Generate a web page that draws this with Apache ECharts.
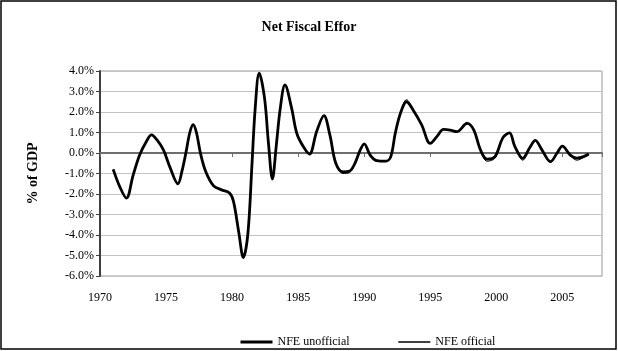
<!DOCTYPE html>
<html>
<head>
<meta charset="utf-8">
<script src="https://cdn.jsdelivr.net/npm/echarts@6/dist/echarts.min.js"></script>
<style>
  html, body { margin: 0; padding: 0; background: #fff; }
  #chart { width: 618px; height: 351px; }
</style>
</head>
<body>
<div id="chart"></div>
<script>
// Observation dates (fractional years)
const years = [
  1971.0, 1971.5, 1972.0, 1972.5, 1973.0, 1973.5, 1973.9, 1974.3, 1974.8, 1975.3,
  1975.9, 1976.2, 1976.5, 1976.8, 1977.05, 1977.3, 1977.6, 1978.0, 1978.6, 1979.2,
  1979.8, 1980.1, 1980.5, 1980.85, 1981.2, 1981.5, 1981.75, 1982.05, 1982.45, 1982.75,
  1983.05, 1983.35, 1983.65, 1984.0, 1984.5, 1984.9, 1985.4, 1985.85, 1986.4, 1986.95,
  1987.4, 1987.85, 1988.4, 1988.9, 1989.3, 1989.7, 1990.0, 1990.45, 1990.95, 1991.6,
  1992.0, 1992.35, 1992.75, 1993.2, 1993.7, 1994.35, 1995.0, 1995.5, 1996.0, 1996.5,
  1997.0, 1997.8, 1998.3, 1998.8, 1999.3, 1999.9, 2000.5, 2001.0, 2001.4, 2002.0,
  2002.55, 2002.95, 2003.45, 2004.1, 2004.6, 2005.0, 2005.6, 2006.1, 2006.6, 2007.0
];

// Net fiscal effort, % of GDP
const nfeUnofficial = [
  -0.80, -1.65, -2.20, -1.10, -0.10, 0.55, 0.88, 0.65, 0.15, -0.70,
  -1.50, -0.90, 0.00, 1.00, 1.38, 1.00, 0.00, -0.90, -1.60, -1.80,
  -1.95, -2.35, -3.85, -5.10, -3.90, -0.60, 2.20, 3.90, 2.70, 0.50,
  -1.27, 0.40, 2.20, 3.32, 2.20, 0.95, 0.30, -0.05, 1.05, 1.82,
  0.88, -0.50, -0.92, -0.88, -0.50, 0.15, 0.45, -0.10, -0.37, -0.40,
  -0.20, 0.96, 1.95, 2.50, 2.10, 1.37, 0.47, 0.80, 1.15, 1.12,
  1.04, 1.45, 1.12, 0.15, -0.30, -0.18, 0.75, 0.98, 0.32, -0.26,
  0.28, 0.62, 0.15, -0.42, 0.00, 0.34, -0.10, -0.25, -0.18, -0.05
];

const nfeOfficial = [
  -0.80, -1.65, -2.20, -1.10, -0.10, 0.55, 0.88, 0.65, 0.15, -0.70,
  -1.50, -0.90, 0.00, 1.00, 1.38, 1.00, 0.00, -0.90, -1.60, -1.80,
  -1.95, -2.35, -3.85, -5.10, -3.90, -0.60, 2.20, 3.90, 2.70, 0.50,
  -1.27, 0.40, 2.20, 3.32, 2.20, 0.95, 0.30, -0.05, 1.05, 1.82,
  0.88, -0.52, -1.00, -0.95, -0.52, 0.15, 0.45, -0.10, -0.40, -0.42,
  -0.20, 0.96, 1.98, 2.60, 2.15, 1.37, 0.47, 0.80, 1.15, 1.12,
  1.04, 1.45, 1.12, 0.12, -0.40, -0.25, 0.75, 0.98, 0.30, -0.35,
  0.25, 0.62, 0.12, -0.45, -0.02, 0.34, -0.12, -0.35, -0.22, -0.05
];

const yTicks = { min: -6, max: 4, step: 1 };
const xTicks = { min: 1970, max: 2008, step: 5 };

const pair = (vals) => years.map((y, i) => [y, vals[i]]);
const serif = '"Liberation Serif", "Times New Roman", serif';

const chart = echarts.init(document.getElementById('chart'));
chart.setOption({
  animation: false,
  backgroundColor: '#fff',
  title: {
    text: 'Net Fiscal Effor',
    left: 'center',
    top: 15,
    textStyle: { fontFamily: serif, fontSize: 14, fontWeight: 'bold', color: '#000' }
  },
  grid: {
    left: 100, right: 16, top: 71, bottom: 75,
    show: true, borderColor: '#9a9a9a', borderWidth: 1, backgroundColor: 'transparent'
  },
  xAxis: [
    {
      type: 'value', position: 'bottom',
      min: xTicks.min, max: xTicks.max, interval: xTicks.step,
      axisLine: { show: false, onZero: false },
      axisTick: { show: false },
      splitLine: { show: false },
      axisLabel: {
        margin: 16, color: '#000', fontFamily: serif, fontSize: 12,
        formatter: (v) => (v % 5 === 0 ? String(v) : '')
      }
    },
    {
      // horizontal zero line with its small year ticks
      type: 'value', position: 'top',
      min: xTicks.min, max: xTicks.max, interval: xTicks.step,
      axisLine: { show: true, onZero: true, lineStyle: { color: '#6e6e6e', width: 2 } },
      axisTick: { show: true, inside: true, length: 4, lineStyle: { color: '#6e6e6e', width: 1 } },
      axisLabel: { show: false },
      splitLine: { show: false }
    }
  ],
  yAxis: {
    type: 'value',
    min: yTicks.min, max: yTicks.max, interval: yTicks.step,
    name: '% of GDP',
    nameLocation: 'middle',
    nameGap: 60,
    nameTextStyle: { fontFamily: serif, fontSize: 14, fontWeight: 'bold', color: '#000' },
    axisLine: { show: true, lineStyle: { color: '#404040', width: 2 } },
    axisTick: { show: true, length: 4, lineStyle: { color: '#404040' } },
    axisLabel: {
      margin: 6, color: '#000', fontFamily: serif, fontSize: 12,
      formatter: (v) => v.toFixed(1) + '%'
    },
    splitLine: { show: true, lineStyle: { color: '#c4c4c4', width: 1 } }
  },
  legend: {
    left: 234, top: 331,
    itemWidth: 32, itemHeight: 14, itemGap: 48,
    itemStyle: { opacity: 0 },
    textStyle: { fontFamily: serif, fontSize: 12, color: '#000' },
    data: [
      { name: 'NFE unofficial', lineStyle: { color: '#000', width: 3 } },
      { name: 'NFE official', lineStyle: { color: '#000', width: 1.4 } }
    ]
  },
  series: [
    {
      name: 'NFE unofficial', type: 'line', xAxisIndex: 0,
      data: pair(nfeUnofficial), smooth: 0.35, symbol: 'none',
      lineStyle: { color: '#000', width: 2.8 }, itemStyle: { color: '#000' }
    },
    {
      name: 'NFE official', type: 'line', xAxisIndex: 0,
      data: pair(nfeOfficial), smooth: 0.35, symbol: 'none',
      lineStyle: { color: '#000', width: 1 }, itemStyle: { color: '#000' }
    }
  ],
  graphic: [
    {
      type: 'rect', silent: true, z: 100,
      shape: { x: 1, y: 1, width: 615, height: 348 },
      style: { fill: 'none', stroke: '#000', lineWidth: 1.5 }
    }
  ]
});
</script>
</body>
</html>
